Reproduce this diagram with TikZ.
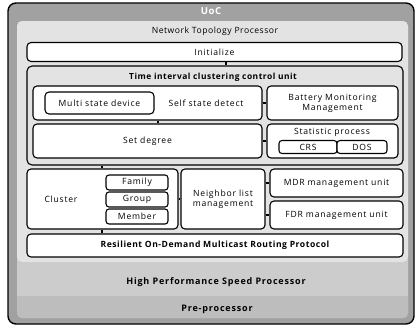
\documentclass[tikz,border=0pt]{standalone}
\usepackage{fontspec}
\setmainfont{Open Sans}
\newfontfamily\lsfont[LetterSpace=9]{Open Sans}
\newfontfamily\lbfont[LetterSpace=6]{Open Sans}
\begin{document}
\begin{tikzpicture}[x=1pt,y=-1pt,
  wbox/.style={draw=black,line width=1.1pt,fill=white,rounded corners=4pt},
  gbox/.style={draw=black,line width=1.1pt,fill=gray!22,rounded corners=5pt},
  conn/.style={line width=2.2pt,black},
  txt/.style={font=\lsfont\fontsize{8.6}{10}\selectfont,align=center,inner sep=0pt},
  btxt/.style={font=\lbfont\fontsize{8.6}{10}\selectfont\bfseries,align=center,inner sep=0pt}]
\useasboundingbox (0,0) rectangle (419,327);
\fill[white] (0,0) rectangle (419,327);
% outer UoC
\draw[line width=1.4pt,fill=gray!74,rounded corners=8pt] (8,3) rectangle (414,324);
\node[btxt,font=\lbfont\fontsize{9.6}{10}\selectfont\bfseries,text=white] (uoc) at (211,11.5) {UoC};
% lower bands
\fill[gray!40,rounded corners=5pt] (17,21) rectangle (408,318);
\fill[gray!52,rounded corners=5pt] (17,296) rectangle (408,318);
\fill[gray!52] (17,296) rectangle (408,302);
% NTP
\fill[gray!22,rounded corners=5pt] (17,21) rectangle (408,262);
\node[txt,font=\lbfont\fontsize{8.6}{10}\selectfont] (ntp) at (215,31) {Network Topology Processor};
\node[btxt,font=\lsfont\fontsize{9}{10}\selectfont\bfseries] (hpsp) at (216,282) {High Performance Speed Processor};
\node[btxt,font=\lsfont\fontsize{9}{10}\selectfont\bfseries] (pre) at (217,309) {Pre-processor};
% Initialize
\node[wbox,minimum width=375pt,minimum height=19pt,txt] (init) at (214.5,52) {Initialize};
% Time interval box
\node[gbox,minimum width=376pt,minimum height=99pt,inner sep=0pt] (tic) at (215,115.5) {};
\node[btxt,font=\lbfont\fontsize{8.4}{10}\selectfont\bfseries] (tict) at (213,77) {Time interval clustering control unit};
% Self state
\node[wbox,minimum width=229pt,minimum height=34pt] (ssd) at (147.5,103) {};
\node[wbox,minimum width=109pt,minimum height=22pt,txt] (msd) at (99.5,103) {Multi state device};
\node[txt] (ssdt) at (206,103) {Self state detect};
\node[wbox,minimum width=131pt,minimum height=34pt,txt] (bmm) at (332.5,103) {Battery Monitoring\\Management};
% Set degree
\node[wbox,minimum width=229pt,minimum height=34pt,txt] (sd) at (147.5,141) {Set degree};
\node[wbox,minimum width=131pt,minimum height=34pt] (sp) at (332.5,141) {};
\node[txt] (spt) at (332,132) {Statistic process};
\node[wbox,minimum width=58pt,minimum height=13pt,txt,rounded corners=3pt] (crs) at (308,147) {CRS};
\node[wbox,minimum width=50pt,minimum height=13pt,txt,rounded corners=3pt] (dos) at (362,147) {DOS};
% Cluster row
\node[wbox,minimum width=151pt,minimum height=60pt] (cl) at (102.5,199) {};
\node[txt] (clt) at (61,199) {Cluster};
\node[wbox,minimum width=62pt,minimum height=15pt,txt,rounded corners=3pt] (fam) at (137,182.5) {Family};
\node[wbox,minimum width=62pt,minimum height=15pt,txt,rounded corners=3pt] (grp) at (137,199.5) {Group};
\node[wbox,minimum width=62pt,minimum height=15pt,txt,rounded corners=3pt] (mem) at (137,216.5) {Member};
\node[wbox,minimum width=84pt,minimum height=60pt,txt] (nlm) at (223,199) {Neighbor list\\management};
\node[wbox,minimum width=133pt,minimum height=28pt,txt] (mdr) at (336.5,183) {MDR management unit};
\node[wbox,minimum width=133pt,minimum height=28pt,txt] (fdr) at (336.5,215) {FDR management unit};
% Resilient
\node[wbox,minimum width=376pt,minimum height=23pt,btxt] (rod) at (215,245.5) {Resilient On-Demand Multicast Routing Protocol};
% connectors
\draw[conn] (init.south -| 226,0) -- (tic.north -| 226,0);
\draw[conn] (ssd.east) -- (bmm.west);
\draw[conn] (sd.east) -- (sp.west);
\draw[conn] (ssd.south -| 158,0) -- (sd.north -| 158,0);
\draw[conn] (tic.south -| 102,0) -- (cl.north -| 102,0);
\draw[conn] (cl.east) -- (nlm.west);
\draw[conn] (nlm.east |- mdr.west) -- (mdr.west);
\draw[conn] (nlm.east |- fdr.west) -- (fdr.west);
\draw[conn] (cl.south -| 102,0) -- (rod.north -| 102,0);
\end{tikzpicture}
\end{document}
